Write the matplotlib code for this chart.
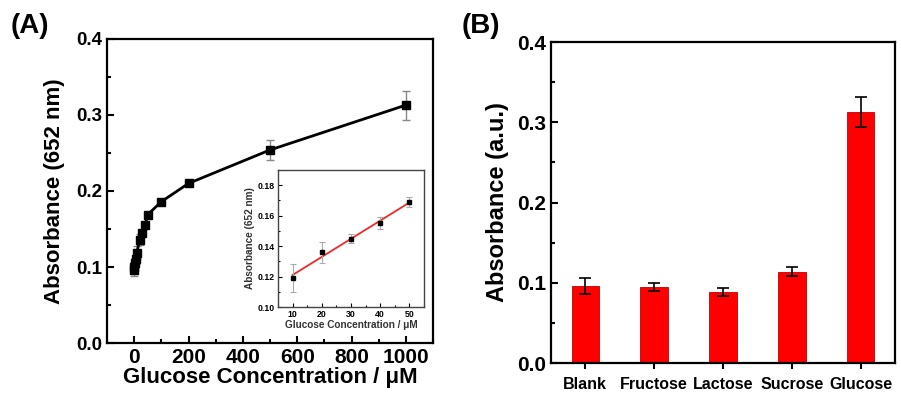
import numpy as np
import matplotlib.pyplot as plt
from matplotlib.ticker import MultipleLocator

plt.rcParams['font.family'] = ['Liberation Sans', 'DejaVu Sans']
plt.rcParams['font.weight'] = 'bold'

# panel A: full concentration range
conc = [0, 1, 2, 5, 10, 20, 30, 40, 50, 100, 200, 500, 1000]
absorb = [0.096, 0.100, 0.105, 0.110, 0.119, 0.136, 0.145, 0.155, 0.169, 0.186, 0.210, 0.254, 0.313]
absorb_err = [0.008, 0.006, 0.006, 0.006, 0.009, 0.007, 0.003, 0.004, 0.003, 0.003, 0.003, 0.013, 0.019]

# inset: linear range
lin_conc = [10, 20, 30, 40, 50]
lin_abs = [0.119, 0.136, 0.145, 0.155, 0.169]
lin_err = [0.009, 0.007, 0.003, 0.004, 0.003]

# panel B: selectivity
sugars = ['Blank', 'Fructose', 'Lactose', 'Sucrose', 'Glucose']
sugar_abs = [0.096, 0.095, 0.089, 0.114, 0.313]
sugar_err = [0.010, 0.005, 0.005, 0.006, 0.019]

fig = plt.figure(figsize=(9.01, 3.93), dpi=100)


def style_axes(ax, lw=1.6):
    for s in ax.spines.values():
        s.set_linewidth(lw)


# ---- (A) ----
ax1 = fig.add_axes([0.1188, 0.1272, 0.3618, 0.7736])
ax1.errorbar(conc, absorb, yerr=absorb_err, color='black', lw=2, marker='s', ms=6,
             ecolor='#888888', elinewidth=1, capsize=3, capthick=1)
ax1.set_xlim(-100, 1100)
ax1.set_ylim(0, 0.4)
ax1.xaxis.set_major_locator(MultipleLocator(200))
ax1.xaxis.set_minor_locator(MultipleLocator(100))
ax1.yaxis.set_major_locator(MultipleLocator(0.1))
ax1.yaxis.set_minor_locator(MultipleLocator(0.05))
ax1.tick_params(which='both', direction='in', width=1.5)
ax1.tick_params(axis='x', labelsize=15)
ax1.tick_params(axis='y', labelsize=13.5)
ax1.tick_params(which='major', length=5)
ax1.tick_params(which='minor', length=3)
ax1.set_xlabel('Glucose Concentration / μM', fontsize=16, fontweight='bold', labelpad=0)
ax1.set_ylabel('Absorbance (652 nm)', fontsize=16, fontweight='bold', labelpad=8)
style_axes(ax1)
fig.text(0.012, 0.935, '(A)', fontsize=20, fontweight='bold', va='center')

# inset
ins = fig.add_axes([0.3085, 0.2188, 0.162, 0.3486])
fit = np.polyfit(lin_conc, lin_abs, 1)
ins.plot([10, 50], np.polyval(fit, [10, 50]), color='#ee2a2a', lw=1.3, zorder=2)
ins.errorbar(lin_conc, lin_abs, yerr=lin_err, fmt='s', color='black', ms=3,
             ecolor='#aaaaaa', elinewidth=0.8, capsize=2, capthick=0.8, zorder=3)
ins.set_xlim(5, 55)
ins.set_ylim(0.10, 0.19)
ins.xaxis.set_major_locator(MultipleLocator(10))
ins.xaxis.set_minor_locator(MultipleLocator(5))
ins.yaxis.set_major_locator(MultipleLocator(0.02))
ins.yaxis.set_minor_locator(MultipleLocator(0.01))
ins.tick_params(which='both', direction='in', width=0.8, labelsize=6.3, pad=2)
ins.tick_params(which='major', length=3)
ins.tick_params(which='minor', length=1.5)
ins.set_xlabel('Glucose Concentration / μM', fontsize=7.2, fontweight='bold',
               color='#333333', labelpad=1)
ins.set_ylabel('Absorbance (652 nm)', fontsize=7.2, fontweight='bold',
               color='#333333', labelpad=2)
for s in ins.spines.values():
    s.set_linewidth(1.0)
    s.set_color('#444444')

# ---- (B) ----
ax2 = fig.add_axes([0.6115, 0.0763, 0.3818, 0.8168])
pos = np.arange(1, len(sugars) + 1)
ax2.bar(pos, sugar_abs, width=0.4, color='#ff0000', edgecolor='#c00000', lw=0.6,
        yerr=sugar_err, error_kw=dict(ecolor='black', elinewidth=1.2, capsize=4, capthick=1.2))
ax2.set_xlim(0.5, 5.5)
ax2.set_ylim(0, 0.4)
ax2.set_xticks(pos)
ax2.set_xticklabels(sugars)
ax2.yaxis.set_major_locator(MultipleLocator(0.1))
ax2.yaxis.set_minor_locator(MultipleLocator(0.05))
ax2.tick_params(axis='y', which='both', direction='in', width=1.5, labelsize=15)
ax2.tick_params(axis='y', which='major', length=5)
ax2.tick_params(axis='y', which='minor', length=3)
ax2.tick_params(axis='x', direction='out', length=4, width=1.5, labelsize=11.5, pad=6)
ax2.set_ylabel('Absorbance (a.u.)', fontsize=17, fontweight='bold', labelpad=6)
style_axes(ax2)
fig.text(0.512, 0.935, '(B)', fontsize=20, fontweight='bold', va='center')

fig.savefig('out.png', dpi=100)
